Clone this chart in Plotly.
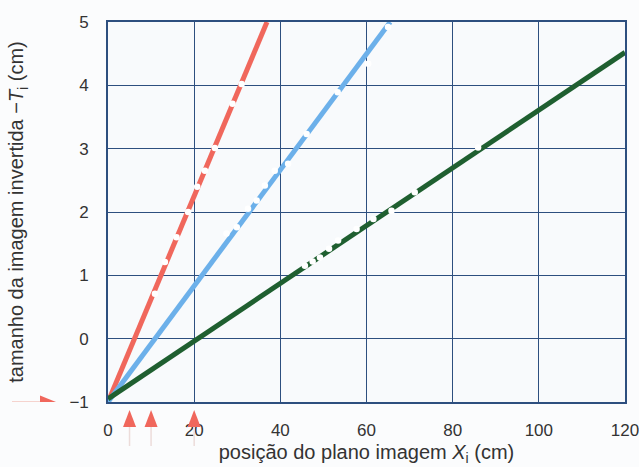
import plotly.graph_objects as go

# fitted lines (image position X_i in cm, inverted image size -T_i in cm)
red_line_x = [0, 36.9]
red_line_y = [-1, 5]
blue_line_x = [0, 65.5]
blue_line_y = [-1, 5]
green_line_x = [0, 120]
green_line_y = [-0.95, 4.52]

# measured points
red_x = [10.9, 13.2, 15.9, 18.6, 20.7, 22.5, 24.8, 28.9, 31.0]
red_y = [0.71, 1.21, 1.60, 2.00, 2.40, 2.65, 3.01, 3.71, 4.02]
blue_x = [27.5, 29.9, 32.5, 34.5, 36.4, 38.7, 41.8, 46.1, 53.3, 60.4, 65.0]
blue_y = [1.66, 1.76, 2.05, 2.18, 2.42, 2.65, 2.76, 3.23, 3.89, 4.34, 4.92]
green_x = [45.7, 47.5, 49.2, 51.3, 53.4, 57.7, 61.6, 65.8, 71.2, 85.9]
green_y = [1.15, 1.22, 1.28, 1.42, 1.55, 1.73, 1.89, 2.02, 2.31, 3.02]

# marker arrows (positions on the x axis, level on the y axis)
arrow_x = [5, 10, 20]
arrow_y_level = -1

x_ticks = [0, 20, 40, 60, 80, 100, 120]
y_ticks = [-1, 0, 1, 2, 3, 4, 5]

RED = "#f0675c"
BLUE = "#6cb0ea"
GREEN = "#1f5f30"
GRID = "#2d4f7f"

fig = go.Figure()

for lx, ly, px, py, c in [
    (red_line_x, red_line_y, red_x, red_y, RED),
    (blue_line_x, blue_line_y, blue_x, blue_y, BLUE),
    (green_line_x, green_line_y, green_x, green_y, GREEN),
]:
    fig.add_trace(go.Scatter(x=lx, y=ly, mode="lines",
                             line=dict(color=c, width=5), showlegend=False,
                             hoverinfo="skip"))
    fig.add_trace(go.Scatter(x=px, y=py, mode="markers",
                             marker=dict(color="white", size=6.5, line=dict(width=0)),
                             showlegend=False))

shapes = []
# arrows below the x axis
for ax in arrow_x:
    shapes.append(dict(type="line", xref="x", yref="paper", xsizemode="pixel", ysizemode="pixel",
                       xanchor=ax, yanchor=0, x0=0, x1=0, y0=-25, y1=-44,
                       line=dict(color="#ecdcda", width=1.5)))
    shapes.append(dict(type="path", xref="x", yref="paper", xsizemode="pixel", ysizemode="pixel",
                       xanchor=ax, yanchor=0, path="M -6.5,-25 L 6.5,-25 L 0,-8 Z",
                       fillcolor=RED, line=dict(width=0)))
# arrow left of the y axis
shapes.append(dict(type="line", xref="paper", yref="y", xsizemode="pixel", ysizemode="pixel",
                   xanchor=0, yanchor=arrow_y_level, x0=-96, x1=-68, y0=0, y1=0,
                   line=dict(color="#f2b7b0", width=1.2)))
shapes.append(dict(type="path", xref="paper", yref="y", xsizemode="pixel", ysizemode="pixel",
                   xanchor=0, yanchor=arrow_y_level, path="M -68,6.5 L -68,-6.5 L -52,0 Z",
                   fillcolor=RED, line=dict(width=0)))

fig.update_layout(
    width=639, height=467,
    margin=dict(l=108, r=14, t=22, b=65, autoexpand=False),
    paper_bgcolor="#fbfcfd",
    plot_bgcolor="#f8fafc",
    font=dict(family="Liberation Sans, Arial, sans-serif", size=17, color="#333333"),
    shapes=shapes,
)
fig.update_xaxes(range=[0, 120], tickvals=x_ticks, showgrid=True, gridcolor=GRID, gridwidth=1.3,
                 showline=True, linecolor=GRID, linewidth=1.6, mirror=True, zeroline=False,
                 ticks="", ticklabelstandoff=12, ticklabeloverflow="allow", automargin=False,
                 title=dict(text="posição do plano imagem <i>X</i><sub>i</sub> (cm)",
                            font=dict(size=20), standoff=6))
fig.update_yaxes(range=[-1, 5], tickvals=y_ticks, showgrid=True, gridcolor=GRID, gridwidth=1.3,
                 showline=True, linecolor=GRID, linewidth=1.6, mirror=True, zeroline=False,
                 ticks="", ticklabelstandoff=14, automargin=False,
                 title=dict(text="tamanho da imagem invertida −<i>T</i><sub>i</sub> (cm)",
                            font=dict(size=20), standoff=40))

fig.write_html("out.html", config={"displayModeBar": False},
               post_script="document.body.style.margin='0';document.body.style.overflow='hidden';")
